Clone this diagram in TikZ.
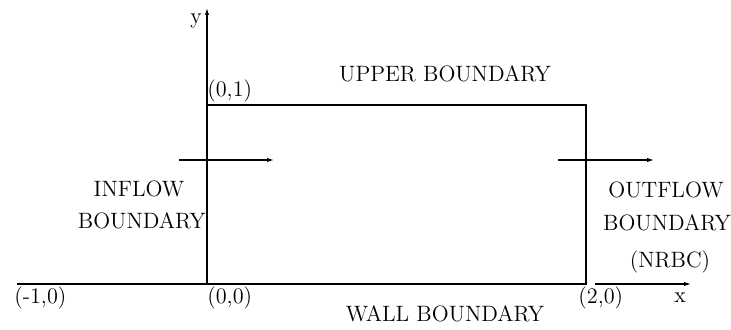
\documentclass[tikz,border=0pt]{standalone}
\usetikzlibrary{arrows.meta}
\begin{document}
\begin{tikzpicture}[x=0.5pt,y=-0.5pt,
  lbl/.style={inner sep=0pt,font=\fontsize{11.1}{13}\selectfont},
  ln/.style={line width=0.6pt},
  arr/.style={ln,-{Latex[length=3.5pt,width=2.2pt]}}]
\useasboundingbox (0,0) rectangle (731,330);
% corners
\coordinate (A) at (207,284);
\coordinate (B) at (586,284);
\coordinate (C) at (586,105);
\coordinate (D) at (207,105);
\coordinate (L) at (17,284);
\coordinate (Ytip) at (207,8);
\coordinate (Xs) at (595,284);
\coordinate (Xe) at (691,284);
\coordinate (a1s) at (179,160);
\coordinate (a1e) at (274,160);
\coordinate (a2s) at (558,160);
\coordinate (a2e) at (654,160);
% box and axes
\draw[ln] (L) -- (A) -- (B) -- (C) -- (D) -- (A);
\draw[arr] (A) -- (Ytip);
\draw[arr] (Xs) -- (Xe);
\draw[arr] (a1s) -- (a1e);
\draw[arr] (a2s) -- (a2e);
% labels
\node[lbl] (ylab) at (196,21) {y};
\node[lbl] (xlab) at (680,298) {x};
\node[lbl,anchor=west] (p01) at (207,91) {(0,1)};
\node[lbl,anchor=west] (p00) at (207,298) {(0,0)};
\node[lbl,anchor=west] (pm10) at (14,298) {(-1,0)};
\node[lbl,anchor=west] (p20) at (578,298) {(2,0)};
\node[lbl] (upper) at (445,74) {UPPER BOUNDARY};
\node[lbl] (wall) at (445,314) {WALL BOUNDARY};
\node[lbl] (in1) at (139,189) {INFLOW};
\node[lbl,anchor=east] (in2) at (206,221) {BOUNDARY};
\node[lbl] (out1) at (666,190) {OUTFLOW};
\node[lbl] (out2) at (667,223) {BOUNDARY};
\node[lbl] (out3) at (670,262) {(NRBC)};
\end{tikzpicture}
\end{document}
